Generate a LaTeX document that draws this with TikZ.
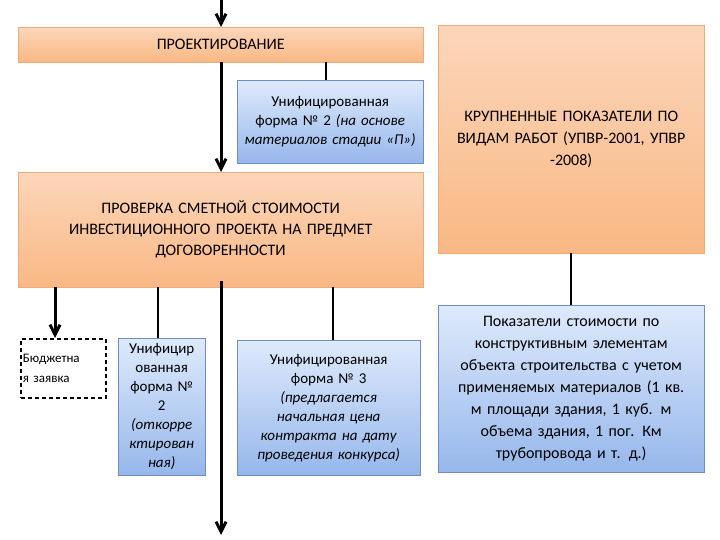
\documentclass[tikz,border=0pt]{standalone}
\usepackage{fontspec}
\setmainfont{Carlito}
\usetikzlibrary{arrows.meta}
\definecolor{otop}{RGB}{252,214,186}
\definecolor{obot}{RGB}{249,184,132}
\definecolor{oline}{RGB}{240,170,120}
\definecolor{btop}{RGB}{222,234,252}
\definecolor{bbot}{RGB}{150,183,235}
\definecolor{bline}{RGB}{110,140,200}
\begin{document}
\begin{tikzpicture}[x=1pt,y=-1pt,
 obox/.style={draw=oline,top color=otop,bottom color=obot,inner sep=0pt,align=center},
 bbox/.style={draw=bline,top color=btop,bottom color=bbot,inner sep=0pt,align=center},
 arr/.style={line width=3pt,-{Straight Barb[length=10pt,width=10pt]}},
 ln/.style={line width=2pt},
 font=\fontsize{15}{19}\selectfont]
\useasboundingbox (0,0) rectangle (720,540);
\node[obox,minimum width=405,minimum height=35,anchor=north west,font=\fontsize{16}{20}\selectfont] (proj) at (18,27) {ПРОЕКТИРОВАНИЕ};
\node[bbox,minimum width=186,minimum height=83,anchor=north west,text width=180] (u2a) at (237,80) {Унифицированная\\форма № 2 \textit{(на основе материалов стадии «П»)}};
\node[obox,minimum width=405,minimum height=115,anchor=north west,text width=395,font=\fontsize{16}{21}\selectfont] (chk) at (18,172) {ПРОВЕРКА СМЕТНОЙ СТОИМОСТИ\\ИНВЕСТИЦИОННОГО ПРОЕКТА НА ПРЕДМЕТ\\ДОГОВОРЕННОСТИ};
\node[obox,minimum width=266,minimum height=228,anchor=north west,text width=262,font=\fontsize{16}{22}\selectfont] (krup) at (438,25) {КРУПНЕННЫЕ ПОКАЗАТЕЛИ ПО\\ВИДАМ РАБОТ (УПВР-2001, УПВР\\-2008)};
\node[bbox,minimum width=266,minimum height=167,anchor=north west,text width=266,font=\fontsize{16}{22}\selectfont] (pok) at (438,305) {Показатели стоимости по\\конструктивным элементам\\объекта строительства с учетом\\применяемых материалов (1 кв.\\м площади здания, 1 куб. м\\объема здания, 1 пог. Км\\трубопровода и т. д.)};
\node[draw,dash pattern=on 4pt off 3pt,line width=2pt,minimum width=85,minimum height=59,anchor=north west,text width=81,align=left,inner sep=2pt,font=\fontsize{13}{20}\selectfont] (bud) at (20,338) {Бюджетна\\я заявка};
\node[bbox,minimum width=87,minimum height=137,anchor=north west,text width=86] (u2b) at (118,338) {Унифицир\\ованная\\форма №\\2\\\textit{(откорре\\ктирован\\ная)}};
\node[bbox,minimum width=183,minimum height=135,anchor=north west,text width=180] (u3) at (237,340) {Унифицированная\\форма № 3\\\textit{(предлагается\\начальная цена\\контракта на дату\\проведения конкурса)}};
\coordinate (top) at (221,0);
\coordinate (bot) at (221,535);
\draw[arr] (top) -- (proj.north -| top);
\draw[arr] (proj.south -| top) -- (chk.north -| top);
\draw[ln] (proj.south -| 326,0) -- (u2a.north -| 326,0);
\draw[ln] (krup.south) -- (pok.north);
\draw[arr] (chk.south -| 55,0) -- (bud.north -| 55,0);
\draw[ln] (chk.south -| 158,0) -- (u2b.north -| 158,0);
\draw[ln] (chk.south -| 333,0) -- (u3.north -| 333,0);
\draw[arr] ([yshift=6]chk.south -| top) -- (bot);
\end{tikzpicture}
\end{document}
